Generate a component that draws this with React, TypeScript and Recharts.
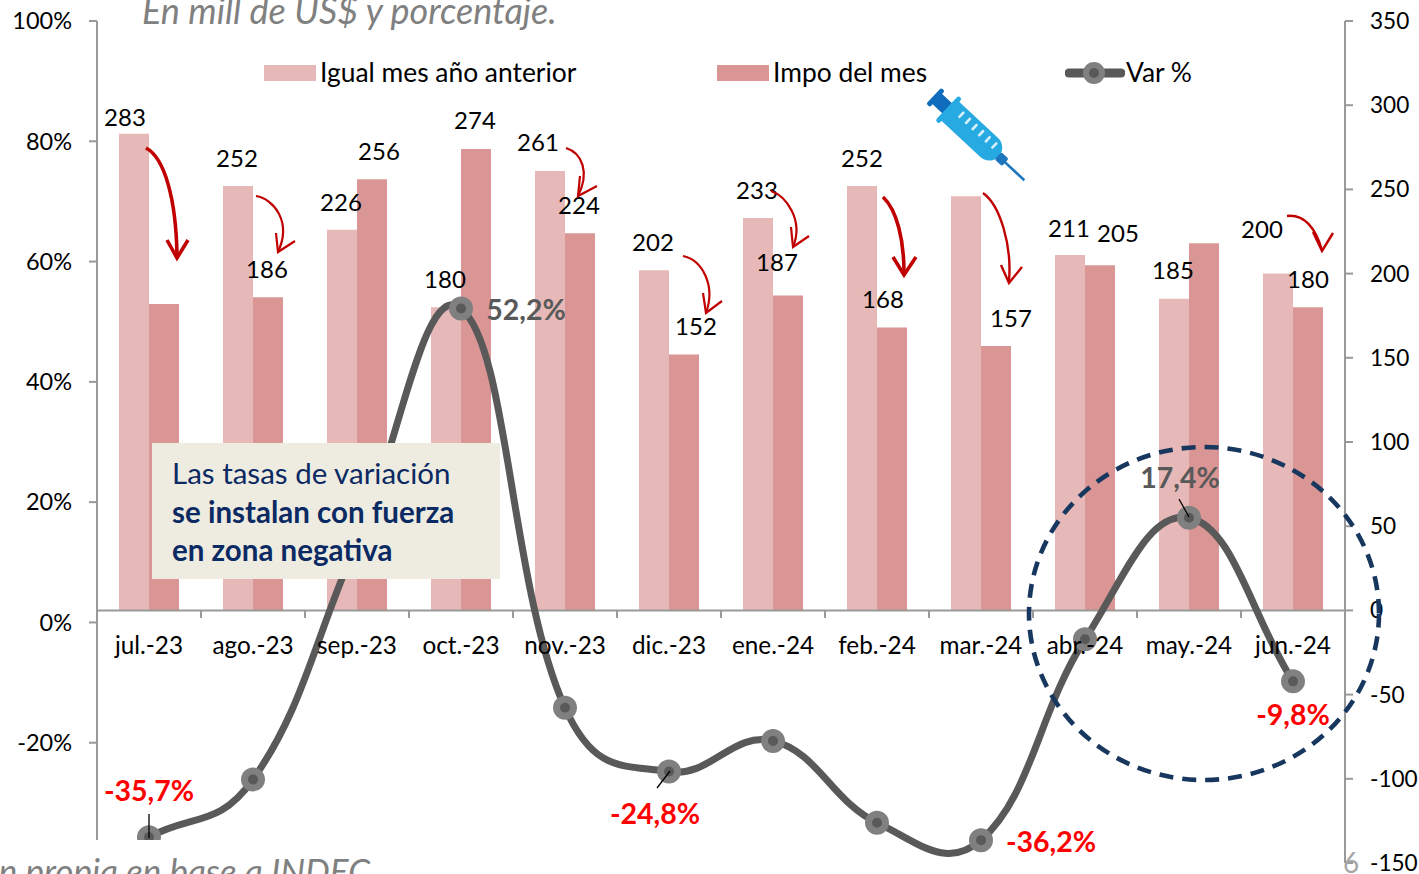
import React from "react";
import {
  Bar,
  ComposedChart,
  LabelList,
  Legend,
  Line,
  ReferenceLine,
  XAxis,
  YAxis,
} from "recharts";

const months = ["jul.-23", "ago.-23", "sep.-23", "oct.-23", "nov.-23", "dic.-23", "ene.-24", "feb.-24", "mar.-24", "abr.-24", "may.-24", "jun.-24"];
const igualMes = [283, 252, 226, 180, 261, 202, 233, 252, 246, 211, 185, 200];
const impoMes = [182, 186, 256, 274, 224, 152, 187, 168, 157, 205, 218, 180];
const varPct = [-35.7, -26.1, 13.3, 52.2, -14.2, -24.8, -19.7, -33.3, -36.2, -2.8, 17.4, -9.8];

const leftTicks = [-40, -20, 0, 20, 40, 60, 80, 100];
const rightTicks = [-150, -100, -50, 0, 50, 100, 150, 200, 250, 300, 350];

// hand placed labels, null = the original shows no label there
const igualNudge = [[-9, -17], [-1, -29], [-1, -28], [-1, -29], [-12, -29], [-1, -29], [-1, -29], [0, -29], null, [-1, -28], [-1, -29], [-16, -45]];
const impoNudge = [null, [-1, -29], [7, -29], [-1, -29], [-1, -29], [12, -29], [-11, -34], [-9, -29], [15, -29], [18, -33], null, [0, -29]];
const varNudge: Record<number, [number, number, string]> = {
  0: [0, -47, "#ff0000"],
  3: [65, 1, "#595959"],
  5: [-14, 41, "#ff0000"],
  8: [70, 1, "#ff0000"],
  10: [-9, -41, "#595959"],
  11: [0, 33, "#ff0000"],
};

const tableData = months.map((month, i) => ({
  month,
  igual: igualMes[i],
  impo: impoMes[i],
  var: varPct[i],
}));

const AXIS = "#999999";
const LINE = "#595959";
const RED = "#c00000";
const NAVY = "#0b2a63";
const FONT = 24;

// curve close to Excel's smoothed line, handles weighted by sqrt of chord length
const K = 0.41;
const excelCurve = (ctx: any) => {
  let pts: number[][] = [];
  const dist = (a: number[], b: number[]) => Math.sqrt(Math.hypot(b[0] - a[0], b[1] - a[1]));
  return {
    areaStart() {},
    areaEnd() {},
    lineStart() {
      pts = [];
    },
    point(x: number, y: number) {
      pts.push([+x, +y]);
    },
    lineEnd() {
      pts.forEach((p, i) => {
        if (i === 0) {
          ctx.moveTo(p[0], p[1]);
          return;
        }
        const p0 = pts[i - 2] || pts[i - 1];
        const p1 = pts[i - 1];
        const p3 = pts[i + 1] || p;
        const seg = dist(p1, p);
        const a = (K * seg) / (dist(p0, p1) + seg);
        const b = (K * seg) / (seg + dist(p, p3));
        ctx.bezierCurveTo(
          p1[0] + (p[0] - p0[0]) * a,
          p1[1] + (p[1] - p0[1]) * a,
          p[0] - (p3[0] - p1[0]) * b,
          p[1] - (p3[1] - p1[1]) * b,
          p[0],
          p[1]
        );
      });
    },
  };
};

const barLabel = (nudge: (number[] | null)[]) => (props: any) => {
  const n = nudge[props.index];
  if (!n) return null;
  return (
    <text
      x={props.x + props.width / 2 + n[0]}
      y={props.y + n[1]}
      textAnchor="middle"
      dominantBaseline="central"
      fontSize={FONT}
      fill="#000"
    >
      {props.value}
    </text>
  );
};

const varLabel = (props: any) => {
  const n = varNudge[props.index];
  if (!n) return null;
  return (
    <text
      x={props.x + n[0]}
      y={props.y + n[1]}
      textAnchor="middle"
      dominantBaseline="central"
      fontSize={28.5}
      fontWeight={700}
      fill={n[2]}
    >
      {String(props.value).replace(".", ",") + "%"}
    </text>
  );
};

const MonthTick = (props: any) => {
  const { x, y, payload, index } = props;
  return (
    <g transform={`translate(${x},${y - 261})`}>
      {index > 0 && <line x1={-52} x2={-52} y1={0} y2={8} stroke={AXIS} strokeWidth={2} />}
      <text x={0} y={34} textAnchor="middle" dominantBaseline="central" fontSize={24.3} fill="#000">
        {payload.value}
      </text>
    </g>
  );
};

const legendSpots = [264, 717, 1065];

const ChartLegend = ({ payload }: any) => (
  <div>
    {(payload || []).map((item: any, i: number) => (
      <div key={item.value} style={{ position: "absolute", left: legendSpots[i], top: 58, height: 30, whiteSpace: "nowrap", fontSize: 26.4, lineHeight: "30px", color: "#000" }}>
        {i < 2 ? (
          <span style={{ position: "absolute", left: 0, top: 7, width: 52, height: 16, background: item.color }} />
        ) : (
          <svg width={60} height={30} style={{ position: "absolute", left: 0, top: 0 }}>
            <line x1={4} x2={56} y1={15} y2={15} stroke={LINE} strokeWidth={9} strokeLinecap="round" />
            <circle cx={29} cy={15} r={8} fill={LINE} stroke="#808080" strokeWidth={6} />
          </svg>
        )}
        <span style={{ position: "absolute", left: i < 2 ? 56 : 61, top: -1 }}>{item.value}</span>
      </div>
    ))}
  </div>
);

const arrows = [
  { d: "M146 148 C165 158 176 200 177 255", head: "M167 240 L177 258 L188 240", w: 3.6 },
  { d: "M256 196 C274 199 292 222 278 252", head: "M276 233 L278 252 L295 241", w: 2.2 },
  { d: "M566 148 C582 153 590 172 578 196", head: "M580 176 L578 196 L597 186", w: 2.2 },
  { d: "M683 256 C702 260 716 285 706 313", head: "M703 293 L706 313 L722 301", w: 2.2 },
  { d: "M771 191 C786 196 804 220 793 247", head: "M791 227 L793 247 L809 236", w: 2.2 },
  { d: "M883 197 C897 210 904 240 904 273", head: "M893 257 L904 275 L916 257", w: 3.6 },
  { d: "M983 193 C1000 205 1012 245 1009 281", head: "M1001 265 L1009 283 L1022 267", w: 2.4 },
  { d: "M1287 216 C1305 214 1316 230 1322 250", head: "M1313 232 L1322 251 L1333 233", w: 2.4 },
];

const leaders = [
  [149, 814, 149, 838],
  [657, 788, 670, 771],
  [1179, 499, 1189, 517],
];

const syringeMarks = [-30, -21, -12, -3, 6, 15];

const Syringe = () => (
  <g transform="translate(979,138) rotate(43)">
    <rect x={-62} y={-11} width={5} height={22} rx={2} fill="#0f6cbd" />
    <rect x={-58} y={-7} width={15} height={14} fill="#0f6cbd" />
    <rect x={-44} y={-17} width={5} height={34} rx={2.5} fill="#27aae1" />
    <path d="M-40 -13 H14 A13 13 0 0 1 14 13 H-40 Z" fill="#27aae1" />
    {syringeMarks.map((mx) => (
      <rect key={mx} x={mx} y={-9} width={2.6} height={8} rx={1} fill="#d6f1fb" />
    ))}
    <rect x={26} y={-5} width={10} height={10} rx={2} fill="#1e76be" />
    <line x1={35} x2={62} y1={0} y2={0} stroke="#1e76be" strokeWidth={2.6} />
  </g>
);

export default function App() {
  return (
    <div style={{ position: "absolute", left: 0, top: 0, width: 1419, height: 874, overflow: "hidden", background: "#fff", fontFamily: "Lato, sans-serif" }}>
      <ComposedChart
        width={1419}
        height={874}
        data={tableData}
        margin={{ top: 21, right: 0, bottom: 0, left: 0 }}
        barGap={0}
        barSize={30}
      >
        <XAxis dataKey="month" height={11} interval={0} axisLine={false} tickLine={false} tick={<MonthTick />} />
        <YAxis
          yAxisId="left"
          width={97}
          domain={[-40, 100]}
          ticks={leftTicks}
          interval={0}
          tickSize={8}
          tickMargin={17}
          tickFormatter={(v: number) => (v === -40 ? "" : `${v}%`)}
          tick={{ fill: "#000", fontSize: 23.5 }}
          axisLine={{ stroke: AXIS, strokeWidth: 2 }}
          tickLine={{ stroke: AXIS, strokeWidth: 2 }}
        />
        <YAxis
          yAxisId="right"
          orientation="right"
          width={74}
          domain={[-150, 350]}
          ticks={rightTicks}
          interval={0}
          tickSize={8}
          tickMargin={17}
          tick={{ fill: "#000", fontSize: 22.6 }}
          axisLine={{ stroke: AXIS, strokeWidth: 2 }}
          tickLine={{ stroke: AXIS, strokeWidth: 2 }}
        />
        <Legend content={<ChartLegend />} wrapperStyle={{ position: "absolute", left: 0, top: 0, width: 0, height: 0 }} />
        <Bar yAxisId="right" dataKey="igual" name="Igual mes año anterior" fill="#e6b9b8" isAnimationActive={false}>
          <LabelList dataKey="igual" content={barLabel(igualNudge)} />
        </Bar>
        <Bar yAxisId="right" dataKey="impo" name="Impo del mes" fill="#d99694" isAnimationActive={false}>
          <LabelList dataKey="impo" content={barLabel(impoNudge)} />
        </Bar>
        <ReferenceLine yAxisId="right" y={0} stroke={AXIS} strokeWidth={2} />
        <Line
          yAxisId="left"
          dataKey="var"
          name="Var %"
          type={excelCurve as any}
          stroke={LINE}
          strokeWidth={7}
          dot={{ r: 8.5, fill: LINE, stroke: "#808080", strokeWidth: 7 }}
          isAnimationActive={false}
        >
          <LabelList dataKey="var" content={varLabel} />
        </Line>
      </ComposedChart>

      <svg width={1419} height={874} style={{ position: "absolute", left: 0, top: 0, pointerEvents: "none" }}>
        <text x={142} y={24} fontSize={36} fontStyle="italic" fill="#808080">En mill de US$ y porcentaje.</text>

        <rect x={152} y={443} width={348} height={136} fill="#eeece1" />
        <text x={172} y={484} fontSize={29.5} fill={NAVY}>Las tasas de variación</text>
        <text x={172} y={523} fontSize={29.5} fontWeight={700} fill={NAVY}>se instalan con fuerza</text>
        <text x={172} y={561} fontSize={29.5} fontWeight={700} fill={NAVY}>en zona negativa</text>

        {arrows.map((a) => (
          <g key={a.d} fill="none" stroke={RED} strokeWidth={a.w}>
            <path d={a.d} />
            <path d={a.head} />
          </g>
        ))}
        {leaders.map((l) => (
          <line key={l[0]} x1={l[0]} y1={l[1]} x2={l[2]} y2={l[3]} stroke="#000" strokeWidth={1.3} />
        ))}
        <Syringe />
        <ellipse cx={1204} cy={613.5} rx={175} ry={166.5} fill="none" stroke="#17375e" strokeWidth={4.6} strokeDasharray="14 9" />

        <rect x={0} y={840} width={400} height={34} fill="#fff" />
        <text x={370} y={884} textAnchor="end" fontSize={35} fontStyle="italic" fill="#808080">n propia en base a INDEC</text>
        <text x={1351} y={873} textAnchor="middle" fontSize={28} fill="#a6a6a6">6</text>
      </svg>
    </div>
  );
}
